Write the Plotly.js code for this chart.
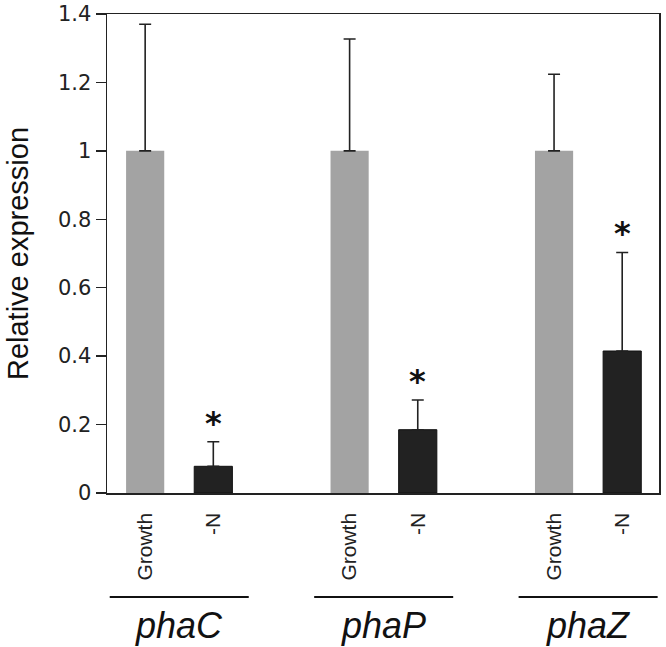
<!DOCTYPE html>
<html><head><meta charset="utf-8">
<script src="https://cdn.plot.ly/plotly-3.0.1.min.js"></script>
<style>html,body{margin:0;padding:0;background:#fff}</style>
</head><body>
<div id="chart" style="width:666px;height:647px"></div>
<script>
var genes = ['phaC', 'phaP', 'phaZ'];
var conditions = ['Growth', '-N'];
var growthValues = [1, 1, 1];
var growthErrors = [0.37, 0.327, 0.224];
var nValues = [0.078, 0.185, 0.415];
var nErrors = [0.072, 0.087, 0.288];
var significant = [true, true, true];

var groupGap = 3;
var growthX = genes.map(function(g, i){ return i * groupGap; });
var nX = genes.map(function(g, i){ return i * groupGap + 1; });

var tickvals = [], ticktext = [];
genes.forEach(function(g, i){
  tickvals.push(growthX[i], nX[i]);
  ticktext.push(conditions[0], conditions[1]);
});

var traces = [
  {type:'bar', x: growthX, y: growthValues, width:0.56, marker:{color:'#a3a3a3'},
   error_y:{type:'data', symmetric:false, array: growthErrors, arrayminus: growthValues.map(function(){return 0;}), color:'#222', thickness:1.6, width:6}},
  {type:'bar', x: nX, y: nValues, width:0.56, marker:{color:'#222222', line:{color:'#111', width:1}},
   error_y:{type:'data', symmetric:false, array: nErrors, arrayminus: nValues.map(function(){return 0;}), color:'#222', thickness:1.6, width:6}}
];

var annotations = [];
var shapes = [];
genes.forEach(function(g, i){
  if (significant[i]) {
    annotations.push({x: nX[i], y: nValues[i] + nErrors[i], xref:'x', yref:'y', text:'<b>*</b>', showarrow:false,
      yanchor:'bottom', yshift:-2, font:{family:'DejaVu Sans, Verdana, sans-serif', size:32, color:'#111'}});
  }
  var c = (growthX[i] + nX[i]) / 2;
  shapes.push({type:'line', xref:'x', yref:'paper', x0: c - 1.02, x1: c + 1.02, y0: -0.217, y1: -0.217,
    line:{color:'#111', width:2}});
  annotations.push({x: c, y: -0.276, xref:'x', yref:'paper', yanchor:'middle', text:'<i>' + g + '</i>', showarrow:false,
    font:{family:'Liberation Sans, Arial, sans-serif', size:36, color:'#111'}});
});

var layout = {
  width:666, height:647,
  margin:{l:107, r:7, t:14, b:154},
  paper_bgcolor:'#fff', plot_bgcolor:'#fff',
  showlegend:false,
  barmode:'overlay',
  xaxis:{range:[-0.56, 7.54], tickmode:'array', tickvals: tickvals, ticktext: ticktext, tickangle:-90,
    showgrid:false, zeroline:false, showline:true, mirror:true, linecolor:'#222', linewidth:1.5,
    ticks:'', ticklabelstandoff:10, tickfont:{family:'Liberation Sans, Arial, sans-serif', size:21, color:'#222'}, fixedrange:true},
  yaxis:{range:[0, 1.4], dtick:0.2, tick0:0, showgrid:false, zeroline:false, showline:true, mirror:true,
    linecolor:'#222', linewidth:1.5, ticks:'outside', ticklen:10, tickwidth:1.5, tickcolor:'#222',
    ticklabelstandoff:0,
    tickfont:{family:'DejaVu Sans, Verdana, sans-serif', size:21, color:'#222'},
    title:{text:'Relative expression', standoff:20, font:{family:'Liberation Sans, Arial, sans-serif', size:29, color:'#111'}}},
  annotations: annotations,
  shapes: shapes
};
Plotly.newPlot('chart', traces, layout, {displayModeBar:false, staticPlot:true});
</script>
</body></html>
